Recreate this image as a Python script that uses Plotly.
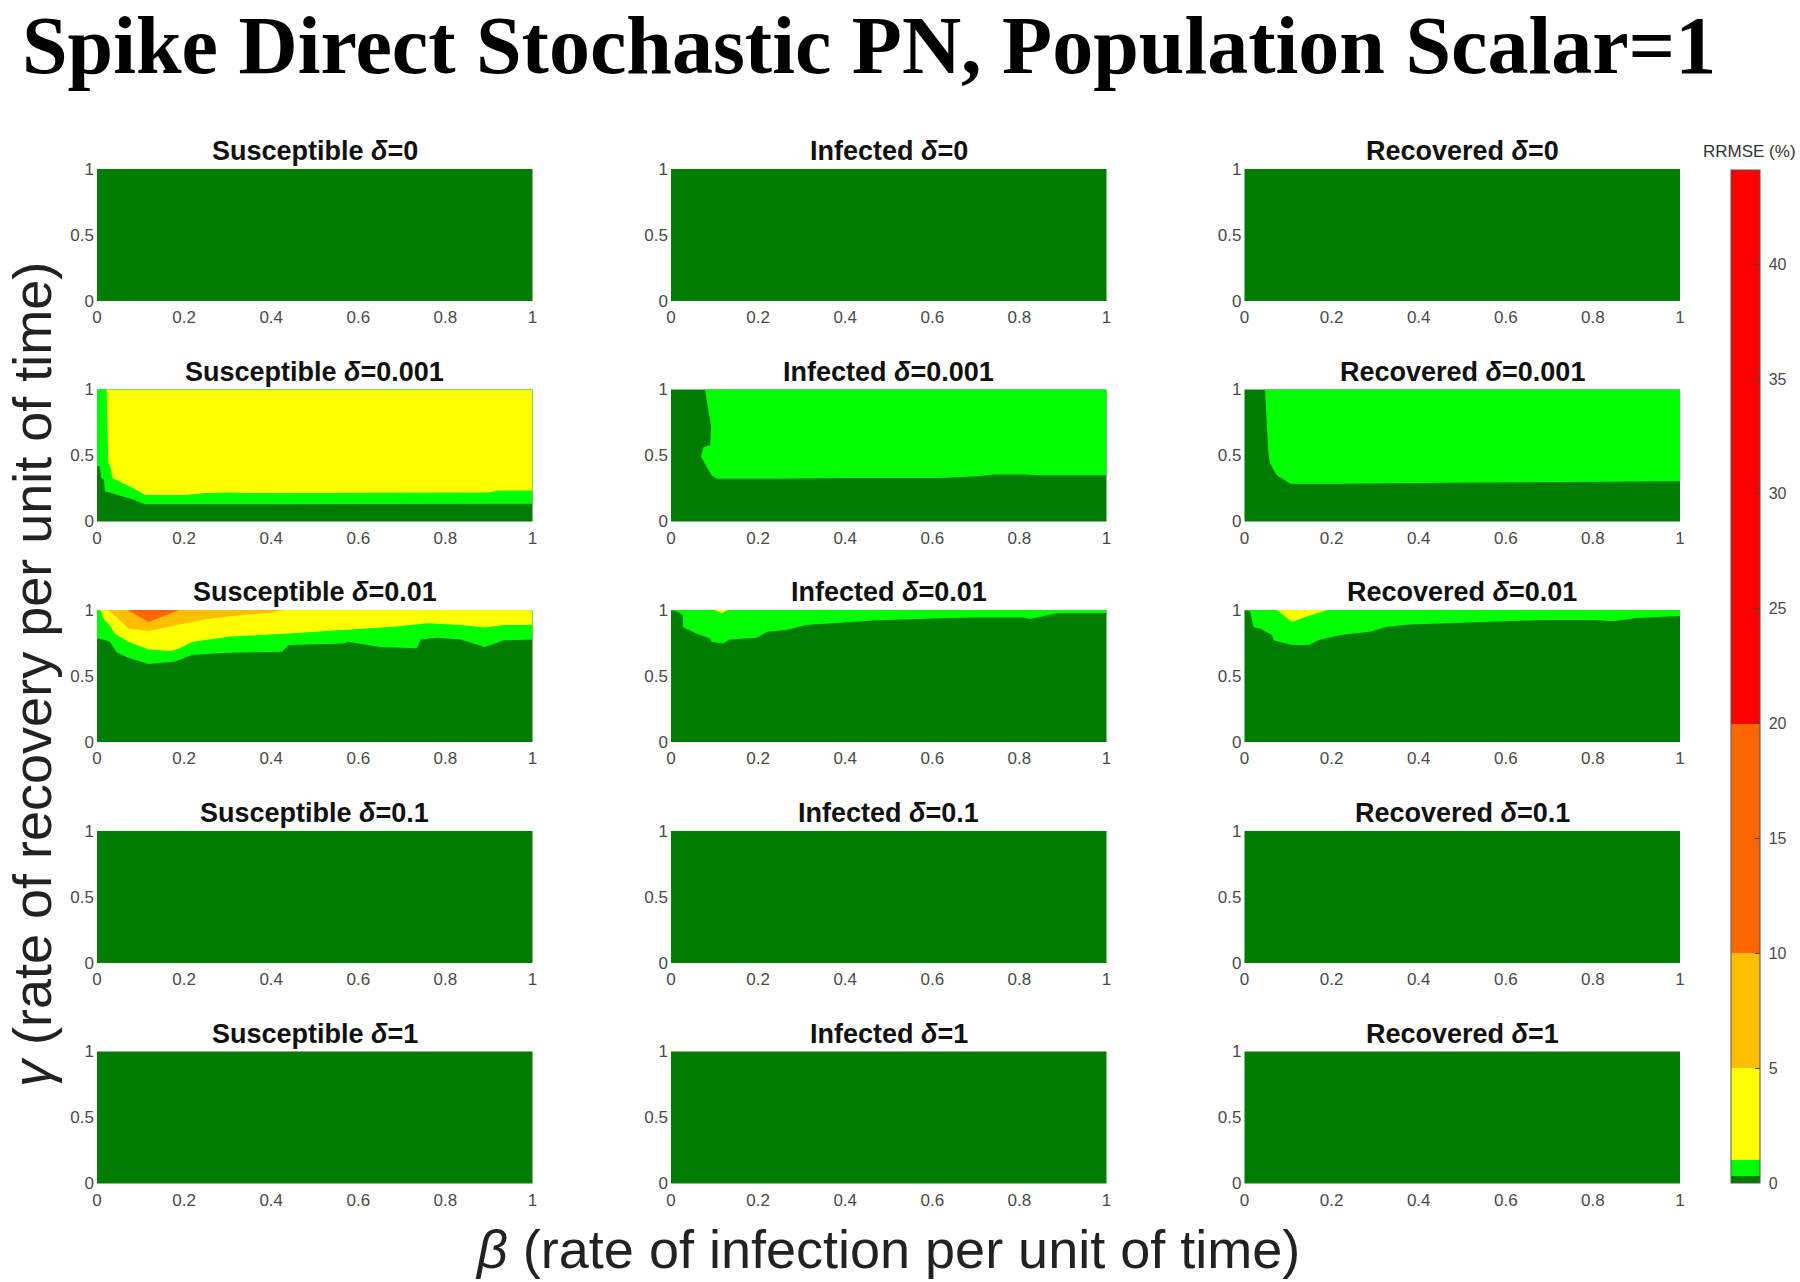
import plotly.graph_objects as go

# ---------------- data ----------------
COMPARTMENTS = ["Susceptible", "Infected", "Recovered"]
DELTAS = ["0", "0.001", "0.01", "0.1", "1"]
BETA_TICKS = [0, 0.2, 0.4, 0.6, 0.8, 1]
BETA_TICK_LABELS = ["0", "0.2", "0.4", "0.6", "0.8", "1"]
GAMMA_TICKS = [0, 0.5, 1]
GAMMA_TICK_LABELS = ["0", "0.5", "1"]

# RRMSE (%) contour levels and the colour of each band
LEVELS = [0, 0.3, 1, 5, 10, 20, 44.1]
LEVEL_COLORS = ["#007C00", "#00FF00", "#FFFF00", "#FFBF00", "#FF6600", "#FF0000"]
CBAR_TICKS = [0, 5, 10, 15, 20, 25, 30, 35, 40]

# Contour lines: region above each line has RRMSE >= level
# Susceptible, delta=0.001
S_D0001_L1_BETA = [0, 0.007, 0.009, 0.016, 0.018, 0.05, 0.08, 0.11, 0.25, 0.45, 1]
S_D0001_L1_GAMMA = [0.42, 0.42, 0.33, 0.32, 0.23, 0.2, 0.17, 0.13, 0.13, 0.135, 0.135]
S_D0001_L2_BETA = [0.022, 0.024, 0.026, 0.032, 0.035, 0.06, 0.09, 0.11, 0.2, 0.25, 0.3, 0.35, 0.9, 0.92, 1]
S_D0001_L2_GAMMA = [1, 0.6, 0.45, 0.4, 0.33, 0.29, 0.24, 0.2, 0.2, 0.215, 0.22, 0.215, 0.22, 0.235, 0.235]
# Susceptible, delta=0.01
S_D001_L1_BETA = [0, 0.01, 0.03, 0.045, 0.07, 0.118, 0.15, 0.18, 0.218, 0.3, 0.425, 0.44, 0.5, 0.567,
                  0.577, 0.65, 0.735, 0.743, 0.78, 0.835, 0.89, 0.935, 1]
S_D001_L1_GAMMA = [0.785, 0.78, 0.76, 0.68, 0.64, 0.59, 0.6, 0.61, 0.66, 0.676, 0.684, 0.735, 0.74, 0.747,
                   0.76, 0.72, 0.71, 0.777, 0.79, 0.777, 0.72, 0.77, 0.777]
S_D001_L2_BETA = [0.008, 0.016, 0.03, 0.041, 0.072, 0.118, 0.17, 0.19, 0.22, 0.306, 0.43, 0.53, 0.605,
                  0.68, 0.76, 0.835, 0.89, 0.935, 1]
S_D001_L2_GAMMA = [1, 0.93, 0.88, 0.82, 0.76, 0.7, 0.69, 0.71, 0.76, 0.8, 0.82, 0.84, 0.853,
                   0.873, 0.9, 0.886, 0.868, 0.886, 0.886]
S_D001_L3_BETA = [0.025, 0.05, 0.072, 0.118, 0.19, 0.25, 0.33, 0.4, 0.43]
S_D001_L3_GAMMA = [1, 0.93, 0.86, 0.84, 0.89, 0.93, 0.96, 0.98, 1]
S_D001_L4_BETA = [0.07, 0.09, 0.118, 0.15, 0.19]
S_D001_L4_GAMMA = [1, 0.96, 0.91, 0.95, 1]
# Infected, delta=0.001
I_D0001_L1_BETA = [0.078, 0.086, 0.092, 0.09, 0.074, 0.069, 0.082, 0.093, 0.105, 0.235, 0.388, 0.617,
                   0.694, 0.74, 0.81, 0.847, 1]
I_D0001_L1_GAMMA = [1, 0.83, 0.72, 0.58, 0.56, 0.49, 0.41, 0.35, 0.324, 0.324, 0.33, 0.33,
                    0.34, 0.357, 0.357, 0.35, 0.35]
# Infected, delta=0.01
I_D001_L1_BETA = [0, 0.013, 0.027, 0.028, 0.059, 0.09, 0.093, 0.12, 0.135, 0.197, 0.22, 0.265, 0.31,
                  0.388, 0.464, 0.54, 0.694, 0.81, 0.824, 0.885, 1]
I_D001_L1_GAMMA = [1, 0.99, 0.96, 0.87, 0.82, 0.785, 0.76, 0.747, 0.777, 0.79, 0.835, 0.848, 0.886,
                   0.904, 0.92, 0.93, 0.944, 0.944, 0.932, 0.975, 0.975]
I_D001_L2_BETA = [0.1, 0.116, 0.13]
I_D001_L2_GAMMA = [1, 0.975, 1]
# Recovered, delta=0.001
R_D0001_L1_BETA = [0.047, 0.051, 0.055, 0.059, 0.074, 0.105, 0.227, 0.457, 0.725, 1]
R_D0001_L1_GAMMA = [1, 0.72, 0.51, 0.44, 0.35, 0.286, 0.286, 0.294, 0.3, 0.304]
# Recovered, delta=0.01
R_D001_L1_BETA = [0, 0.013, 0.021, 0.036, 0.063, 0.067, 0.109, 0.147, 0.174, 0.22, 0.288, 0.327, 0.38,
                  0.533, 0.686, 0.8, 0.847, 0.9, 1]
R_D001_L1_GAMMA = [1, 0.99, 0.87, 0.86, 0.81, 0.77, 0.734, 0.734, 0.777, 0.81, 0.835, 0.873, 0.89,
                   0.906, 0.924, 0.924, 0.914, 0.94, 0.954]
R_D001_L2_BETA = [0.074, 0.109, 0.143, 0.19]
R_D001_L2_GAMMA = [1, 0.91, 0.95, 1]

# (row, col, band index, beta, gamma)
CONTOURS = [
    (1, 0, 1, S_D0001_L1_BETA, S_D0001_L1_GAMMA),
    (1, 0, 2, S_D0001_L2_BETA, S_D0001_L2_GAMMA),
    (2, 0, 1, S_D001_L1_BETA, S_D001_L1_GAMMA),
    (2, 0, 2, S_D001_L2_BETA, S_D001_L2_GAMMA),
    (2, 0, 3, S_D001_L3_BETA, S_D001_L3_GAMMA),
    (2, 0, 4, S_D001_L4_BETA, S_D001_L4_GAMMA),
    (1, 1, 1, I_D0001_L1_BETA, I_D0001_L1_GAMMA),
    (2, 1, 1, I_D001_L1_BETA, I_D001_L1_GAMMA),
    (2, 1, 2, I_D001_L2_BETA, I_D001_L2_GAMMA),
    (1, 2, 1, R_D0001_L1_BETA, R_D0001_L1_GAMMA),
    (2, 2, 1, R_D001_L1_BETA, R_D001_L1_GAMMA),
    (2, 2, 2, R_D001_L2_BETA, R_D001_L2_GAMMA),
]

# ---------------- layout geometry (pixels) ----------------
W, H = 1800, 1282
COL_LEFT = [97, 671, 1244.5]
PANEL_W = 435.5
ROW_TOP = [169, 389.5, 610, 831, 1051.5]
PANEL_H = 132


def px(x):
    return x / W


def py(y):
    return 1 - y / H


fig = go.Figure()
layout = dict(
    width=W, height=H,
    margin=dict(l=0, r=0, t=0, b=0, autoexpand=False),
    paper_bgcolor="white",
    plot_bgcolor=LEVEL_COLORS[0],
    showlegend=False,
    hovermode=False,
    font=dict(family="Liberation Sans, Arial, sans-serif", color="#404040"),
)

annotations = []


def axis_id(r, c):
    return r * 3 + c + 1


for r in range(5):
    for c in range(3):
        i = axis_id(r, c)
        sx = "" if i == 1 else str(i)
        layout["xaxis" + sx] = dict(
            domain=[px(COL_LEFT[c]), px(COL_LEFT[c] + PANEL_W)],
            range=[0, 1], anchor="y" + sx,
            tickvals=BETA_TICKS, ticktext=BETA_TICK_LABELS,
            showgrid=False, zeroline=False, showline=False, ticks="",
            ticklabelstandoff=4,
            tickfont=dict(size=17, color="#4a4a4a"), fixedrange=True,
        )
        layout["yaxis" + sx] = dict(
            domain=[py(ROW_TOP[r] + PANEL_H), py(ROW_TOP[r])],
            range=[0, 1], anchor="x" + sx,
            tickvals=GAMMA_TICKS, ticktext=GAMMA_TICK_LABELS,
            showgrid=False, zeroline=False, showline=False, ticks="",
            ticklabelstandoff=2,
            tickfont=dict(size=17, color="#4a4a4a"), fixedrange=True,
        )
        # an empty trace so that every panel (and its dark-green background) is drawn
        fig.add_trace(go.Scatter(x=[], y=[], mode="lines", xaxis="x" + sx, yaxis="y" + sx,
                                 hoverinfo="skip"))
        annotations.append(dict(
            text="<b>%s <i>δ</i>=%s</b>" % (COMPARTMENTS[c], DELTAS[r]),
            x=px(COL_LEFT[c] + PANEL_W / 2), y=py(ROW_TOP[r] - 18),
            xref="paper", yref="paper", xanchor="center", yanchor="middle",
            showarrow=False, font=dict(size=27, color="#111111"),
        ))

# contour bands as filled regions
for (r, c, band, b, g) in CONTOURS:
    i = axis_id(r, c)
    sx = "" if i == 1 else str(i)
    xs = list(b) + [1, 0]
    ys = list(g) + [1, 1]
    fig.add_trace(go.Scatter(
        x=xs, y=ys, mode="lines", fill="toself",
        fillcolor=LEVEL_COLORS[band], line=dict(width=0, color=LEVEL_COLORS[band]),
        xaxis="x" + sx, yaxis="y" + sx, hoverinfo="skip",
    ))

# colour bar
top = LEVELS[-1]
cs = []
for k, col in enumerate(LEVEL_COLORS):
    cs.append([LEVELS[k] / top, col])
    cs.append([LEVELS[k + 1] / top, col])
CB_TOP, CB_BOT = 170, 1183
fig.add_trace(go.Scatter(
    x=[0.5, 0.5], y=[0.5, 0.5], mode="markers",
    marker=dict(size=1, opacity=0, color=[LEVELS[0], LEVELS[-1]], cmin=LEVELS[0], cmax=LEVELS[-1],
                colorscale=cs, showscale=True,
                colorbar=dict(
                    x=px(1731), xanchor="left", xpad=0,
                    y=py((CB_TOP + CB_BOT) / 2), yanchor="middle", ypad=0,
                    len=CB_BOT - CB_TOP, lenmode="pixels", thickness=29,
                    tickvals=CBAR_TICKS, ticktext=["\u00a0" + str(t) for t in CBAR_TICKS],
                    ticks="inside", ticklen=5, tickcolor="#444444",
                    tickfont=dict(size=16, color="#4a4a4a"),
                    outlinewidth=1, outlinecolor="#555555",
                )),
    hoverinfo="skip",
))

annotations.append(dict(
    text="RRMSE (%)", x=px(1749), y=py(151), xref="paper", yref="paper",
    xanchor="center", yanchor="middle", showarrow=False,
    font=dict(size=17, color="#333333"),
))
annotations.append(dict(
    text="<b>Spike Direct Stochastic PN, Population Scalar=1</b>",
    x=px(20), y=py(46), xref="paper", yref="paper",
    xanchor="left", yanchor="middle", showarrow=False,
    font=dict(size=82, color="black", family="Liberation Serif, Times New Roman, serif"),
))
annotations.append(dict(
    text="<i>γ</i> (rate of recovery per unit of time)",
    x=px(32), y=py(675), xref="paper", yref="paper",
    xanchor="center", yanchor="middle", textangle=-90, showarrow=False,
    font=dict(size=54, color="#222222"),
))
annotations.append(dict(
    text="<i>β</i> (rate of infection per unit of time)",
    x=px(887), y=py(1249), xref="paper", yref="paper",
    xanchor="center", yanchor="middle", showarrow=False,
    font=dict(size=54, color="#222222"),
))
layout["annotations"] = annotations
fig.update_layout(**layout)
fig.write_html("out.html")
